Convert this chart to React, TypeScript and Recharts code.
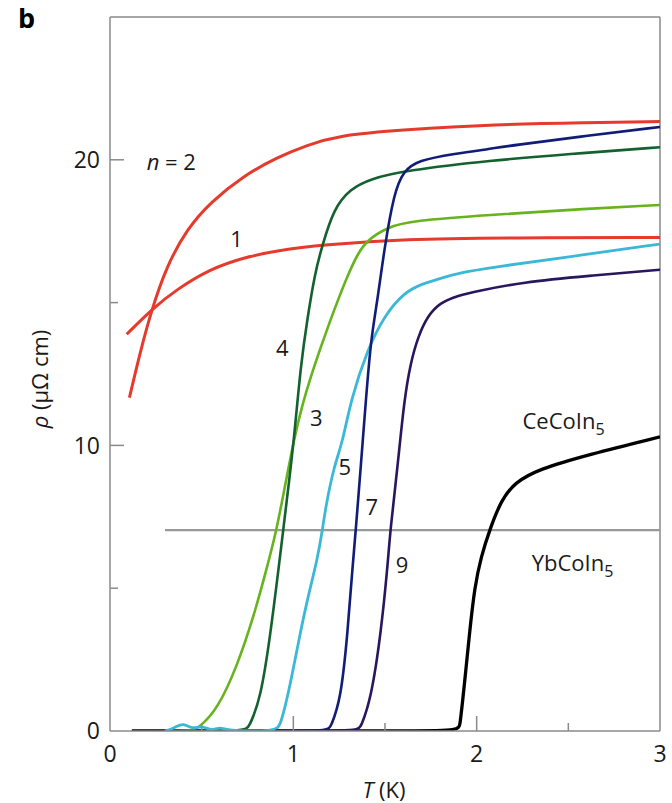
import React from 'react';
import { LineChart, Line, XAxis, YAxis, ReferenceLine, ReferenceDot } from 'recharts';

// Resistivity ρ(T) of CeCoIn5 / YbCoIn5 superlattices, [T (K), ρ (μΩ cm)]
const curveN2: [number, number][] = [
  [0.106, 11.67], [0.164, 13.25], [0.228, 14.77], [0.31, 16.29], [0.42, 17.58],
  [0.547, 18.51], [0.73, 19.45], [0.912, 20.09], [1.07, 20.5], [1.24, 20.85],
  [1.6, 21.05], [2.1, 21.24], [2.6, 21.3], [3.0, 21.34],
];
const curveN1: [number, number][] = [
  [0.091, 13.89], [0.228, 14.77], [0.365, 15.47], [0.547, 16.18], [0.73, 16.58],
  [0.912, 16.82], [1.159, 17.02], [1.6, 17.23], [2.2, 17.27], [3.0, 17.28],
];
const curveN4: [number, number][] = [
  [0.3, 0], [0.74, 0], [0.757, 0.13], [0.821, 1.09], [0.876, 3.43], [0.921, 5.76],
  [0.945, 7.05], [0.976, 8.69], [1.007, 10.44], [1.04, 12.78], [1.076, 14.42],
  [1.12, 16.1], [1.159, 17.02], [1.22, 18.28], [1.31, 18.98], [1.42, 19.33],
  [1.605, 19.62], [2.08, 19.98], [2.5, 20.2], [3.0, 20.44],
];
const curveN3: [number, number][] = [
  [0.3, 0], [0.45, 0], [0.49, 0.15], [0.584, 0.74], [0.693, 2.26], [0.784, 4.01],
  [0.858, 5.76], [0.909, 7.05], [0.958, 8.69], [1.003, 10.2], [1.05, 11.45],
  [1.1, 12.5], [1.15, 13.45], [1.2, 14.35], [1.25, 15.2], [1.3, 16.0], [1.35, 16.7],
  [1.405, 17.2], [1.514, 17.64], [1.642, 17.87], [2.08, 18.07], [2.5, 18.25], [3.0, 18.42],
];
const curveN5: [number, number][] = [
  [0.3, 0], [0.35, 0.1], [0.4, 0.3], [0.45, 0.05], [0.5, 0.2], [0.55, 0], [0.6, 0.15],
  [0.65, 0], [0.9, 0], [0.93, 0.15], [0.985, 1.67], [1.03, 3.19], [1.076, 4.6],
  [1.131, 6.0], [1.159, 7.05], [1.177, 7.87], [1.222, 9.27], [1.268, 10.09],
  [1.314, 11.61], [1.405, 13.37], [1.496, 14.54], [1.605, 15.36], [1.7, 15.65],
  [1.788, 15.82], [1.916, 16.06], [2.08, 16.23], [2.5, 16.6], [3.0, 17.05],
];
const curveN7: [number, number][] = [
  [0.9, 0], [1.19, 0], [1.204, 0.15], [1.259, 1.09], [1.296, 3.43], [1.323, 5.76],
  [1.341, 7.05], [1.368, 9.27], [1.396, 11.61], [1.423, 13.72], [1.46, 15.12],
  [1.496, 16.88], [1.55, 18.86], [1.6, 19.6], [1.679, 19.98], [1.879, 20.21],
  [2.08, 20.39], [2.19, 20.5], [2.61, 20.85], [3.0, 21.15],
];
const curveN9: [number, number][] = [
  [0.9, 0], [1.355, 0], [1.368, 0.15], [1.423, 1.09], [1.478, 3.43], [1.514, 5.76],
  [1.529, 7.05], [1.569, 9.27], [1.605, 11.61], [1.64, 12.9], [1.68, 13.8],
  [1.733, 14.54], [1.8, 15.0], [1.9, 15.25], [2.0, 15.4], [2.244, 15.71],
  [2.61, 15.94], [3.0, 16.15],
];
const curveCeCoIn5: [number, number][] = [
  [0.119, 0], [1.9, 0], [1.906, 0.03], [1.934, 1.67], [1.961, 3.43], [1.989, 5.06],
  [2.025, 6.12], [2.071, 7.05], [2.135, 8.1], [2.207, 8.69], [2.335, 9.16],
  [2.61, 9.68], [3.0, 10.3],
];
const curveYbCoIn5: [number, number][] = [[0.3, 7.03], [3.0, 7.03]];

const xTicks = [0, 0.5, 1, 1.5, 2, 2.5, 3];
const yTicks = [0, 5, 10, 15, 20];

const FONT = "'Open Sans', 'Noto Sans', sans-serif";
const AXIS = '#8a8a8a';

const toPts = (arr: [number, number][]) => arr.map(([t, r]) => ({ t, r }));

const series = [
  { name: 'YbCoIn5', pts: curveYbCoIn5, color: '#999999', width: 2.2 },
  { name: 'CeCoIn5', pts: curveCeCoIn5, color: '#000000', width: 3.3 },
  { name: 'n=1', pts: curveN1, color: '#e53a2c', width: 3 },
  { name: 'n=2', pts: curveN2, color: '#e53a2c', width: 3 },
  { name: 'n=3', pts: curveN3, color: '#66b31e', width: 2.6 },
  { name: 'n=4', pts: curveN4, color: '#13612f', width: 2.6 },
  { name: 'n=5', pts: curveN5, color: '#3ab8d6', width: 2.8 },
  { name: 'n=7', pts: curveN7, color: '#101c78', width: 2.6 },
  { name: 'n=9', pts: curveN9, color: '#28165e', width: 2.6 },
];

// curve annotations: [T, ρ, text]
const numberLabels: [number, number, string][] = [
  [0.69, 16.95, '1'],
  [0.94, 13.13, '4'],
  [1.125, 10.68, '3'],
  [1.281, 8.98, '5'],
  [1.428, 7.58, '7'],
  [1.593, 5.54, '9'],
];

const YTick = (props: any) => {
  const { x, y, payload } = props;
  const v = payload.value;
  const major = v % 10 === 0;
  return (
    <g>
      {v !== 0 && (
        <line x1={x} x2={x + (major ? 14 : 8)} y1={y} y2={y} stroke={AXIS} strokeWidth={1.5} />
      )}
      {major && (
        <text x={x - 10} y={y} dy="0.36em" textAnchor="end" fontSize={23} fontFamily={FONT} fill="#1a1a1a">
          {v}
        </text>
      )}
    </g>
  );
};

const XTick = (props: any) => {
  const { x, y, payload } = props;
  const v = payload.value;
  const major = Number.isInteger(v);
  return (
    <g>
      {v !== 0 && v !== 3 && (
        <line x1={x} x2={x} y1={y} y2={y - (major ? 15 : 8)} stroke={AXIS} strokeWidth={1.5} />
      )}
      {major && (
        <text x={x} y={y + 31} textAnchor="middle" fontSize={23} fontFamily={FONT} fill="#1a1a1a">
          {v}
        </text>
      )}
    </g>
  );
};

const XTitle = (props: any) => {
  const vb = props.viewBox || { x: 110, y: 731, width: 550 };
  return (
    <text x={vb.x + vb.width / 2 - 1} y={vb.y + 67} textAnchor="middle" fontSize={22} fontFamily={FONT} fill="#1a1a1a">
      <tspan fontStyle="italic">T</tspan> (K)
    </text>
  );
};

const YTitle = (props: any) => {
  const vb = props.viewBox || { x: 0, y: 17, height: 714 };
  const cx = 40;
  const cy = vb.y + vb.height / 2 + 5;
  return (
    <text x={cx} y={cy} dy="0.35em" textAnchor="middle" fontSize={22} fontFamily={FONT} fill="#1a1a1a"
      transform={`rotate(-90, ${cx}, ${cy})`}>
      <tspan fontStyle="italic">ρ</tspan> (μΩ cm)
    </text>
  );
};

const textShape = (content: React.ReactNode, anchor: 'start' | 'middle' = 'middle') => (p: any) => (
  <text x={p.cx} y={p.cy} textAnchor={anchor} fontSize={22} fontFamily={FONT} fill="#1a1a1a">
    {content}
  </text>
);

export default function App() {
  return (
    <div style={{ position: 'absolute', left: 0, top: 0, width: 672, height: 803, background: '#fff' }}>
      <div style={{ position: 'absolute', left: 18, top: 4, fontFamily: FONT, fontWeight: 700, fontSize: 27, lineHeight: '27px', color: '#000' }}>
        b
      </div>
      <LineChart width={672} height={803} margin={{ top: 17, right: 12, bottom: 0, left: 0 }}>
        <XAxis
          dataKey="t"
          type="number"
          domain={[0, 3]}
          ticks={xTicks}
          allowDataOverflow
          height={72}
          tickSize={0}
          tickMargin={0}
          tickLine={false}
          axisLine={{ stroke: AXIS, strokeWidth: 1.5 }}
          tick={<XTick />}
          interval={0}
          label={{ content: <XTitle /> }}
        />
        <YAxis
          dataKey="r"
          type="number"
          domain={[0, 25]}
          ticks={yTicks}
          allowDataOverflow
          width={110}
          tickSize={0}
          tickMargin={0}
          tickLine={false}
          axisLine={{ stroke: AXIS, strokeWidth: 1.5 }}
          tick={<YTick />}
          interval={0}
          label={{ content: <YTitle /> }}
        />
        <ReferenceLine y={25} stroke={AXIS} strokeWidth={1.5} />
        <ReferenceLine x={3} stroke={AXIS} strokeWidth={1.5} />
        {series.map((s) => (
          <Line
            key={s.name}
            name={s.name}
            data={toPts(s.pts)}
            dataKey="r"
            type="basis"
            stroke={s.color}
            strokeWidth={s.width}
            dot={false}
            activeDot={false}
            isAnimationActive={false}
          />
        ))}
        <ReferenceDot
          x={0.2}
          y={19.65}
          r={0}
          shape={textShape(<><tspan fontStyle="italic">n</tspan> = 2</>, 'start')}
        />
        {numberLabels.map(([t, r, txt]) => (
          <ReferenceDot key={txt} x={t} y={r} r={0} shape={textShape(txt)} />
        ))}
        <ReferenceDot
          x={2.25}
          y={10.56}
          r={0}
          shape={textShape(<>CeCoIn<tspan fontSize={16} dy={6}>5</tspan></>, 'start')}
        />
        <ReferenceDot
          x={2.3}
          y={5.61}
          r={0}
          shape={textShape(<>YbCoIn<tspan fontSize={16} dy={6}>5</tspan></>, 'start')}
        />
      </LineChart>
    </div>
  );
}
